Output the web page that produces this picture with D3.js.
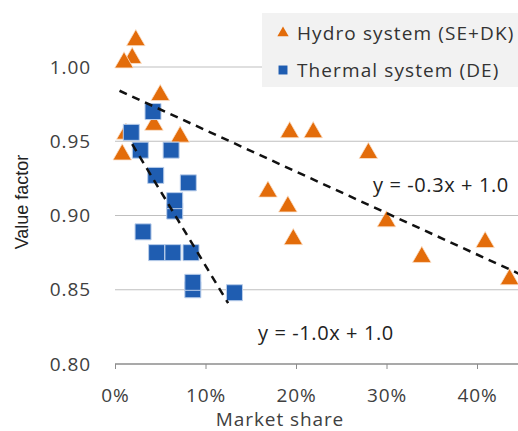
<!DOCTYPE html>
<html><head><meta charset="utf-8">
<script src="https://cdn.jsdelivr.net/npm/d3@7"></script>
<style>body{margin:0;background:#fff}svg{display:block}</style>
</head><body>
<svg id="c" width="518" height="431"></svg>
<script>
// Data (share as fraction, value factor)
const hydroShare = [0.023,0.019,0.010,0.050,0.043,0.072,0.008,0.012,0.193,0.219,0.280,0.169,0.191,0.197,0.300,0.339,0.409,0.436];
const hydroValue = [1.018,1.006,1.003,0.981,0.961,0.953,0.941,0.955,0.956,0.956,0.942,0.916,0.906,0.884,0.896,0.872,0.882,0.857];
const thermalShare = [0.066,0.086,0.018,0.028,0.062,0.045,0.081,0.066,0.042,0.031,0.046,0.064,0.084,0.086,0.132];
const thermalValue = [0.903,0.850,0.956,0.944,0.944,0.927,0.922,0.910,0.970,0.889,0.875,0.875,0.875,0.855,0.848];
const hydroTrend = {x:[0.005,0.46], y:[0.984,0.857]};
const thermalTrend = {x:[0.019,0.125], y:[0.948,0.841]};
const xTicks = [0,0.1,0.2,0.3,0.4];
const yTicks = [0.80,0.85,0.90,0.95,1.00];
const seriesNames = ["Hydro system (SE+DK)","Thermal system (DE)"];
const eqLabels = ["y = -0.3x + 1.0","y = -1.0x + 1.0"];

const orange="#e36c0a", blue="#1f5db1";
const svg=d3.select("#c");
const x=d3.scaleLinear().domain([0,0.5]).range([115,567.5]);
const y=d3.scaleLinear().domain([0.8,1.0]).range([364,67]);
const font="'Open Sans', sans-serif";
const fs=19, ls="0.9px";

// gridlines
svg.append("g").selectAll("line").data(yTicks.filter(d=>d>0.8)).join("line")
  .attr("x1",x(0)).attr("x2",518).attr("y1",d=>y(d)).attr("y2",d=>y(d))
  .attr("stroke","#bfbfbf").attr("stroke-width",1.2);

// x axis
const xa=svg.append("g").attr("transform",`translate(0,${y(0.8)})`)
  .call(d3.axisBottom(x).tickValues(xTicks).tickFormat(d3.format(".0%")).tickSizeInner(5).tickSizeOuter(0).tickPadding(20));
xa.select(".domain").attr("stroke","#8c8c8c").attr("stroke-width",1.5).attr("d",`M${x(0)},0H518`);
xa.selectAll(".tick line").attr("stroke","#8c8c8c");
xa.selectAll("text").attr("font-family",font).attr("font-size",fs).attr("letter-spacing",ls).attr("fill","#404040");

// y axis
const ya=svg.append("g").attr("transform",`translate(${x(0)},0)`)
  .call(d3.axisLeft(y).tickValues(yTicks).tickFormat(d3.format(".2f")).tickSize(0).tickPadding(24));
ya.select(".domain").remove();
ya.selectAll("text").attr("font-family",font).attr("font-size",fs).attr("letter-spacing",ls).attr("fill","#404040");

// axis titles
svg.append("text").attr("x",280).attr("y",426).attr("text-anchor","middle")
  .attr("font-family",font).attr("font-size",fs).attr("letter-spacing",ls).attr("fill","#404040").text("Market share");
svg.append("text").attr("transform","translate(28,202) rotate(-90)").attr("text-anchor","middle")
  .attr("font-family","'Liberation Sans', Arial, sans-serif").attr("font-size",18).attr("fill","#222").text("Value factor");

// points
const tri=d3.symbol().type(d3.symbolTriangle).size(150);
const sq=d3.symbol().type(d3.symbolSquare).size(256);
svg.append("g").selectAll("path").data(hydroShare.map((s,i)=>[s,hydroValue[i]])).join("path")
  .attr("d",tri).attr("transform",d=>`translate(${x(d[0])},${y(d[1])})`).attr("fill",orange)
  .attr("stroke","#fbe2cc").attr("stroke-width",0.8);
svg.append("g").selectAll("path").data(thermalShare.map((s,i)=>[s,thermalValue[i]])).join("path")
  .attr("d",sq).attr("transform",d=>`translate(${x(d[0])},${y(d[1])})`).attr("fill",blue)
  .attr("stroke","#b9cdea").attr("stroke-width",1);

// trend lines
[hydroTrend,thermalTrend].forEach(t=>{
  svg.append("line").attr("x1",x(t.x[0])).attr("y1",y(t.y[0])).attr("x2",x(t.x[1])).attr("y2",y(t.y[1]))
    .attr("stroke","#111").attr("stroke-width",2.5).attr("stroke-dasharray","8,6");
});

// equation labels
svg.append("text").attr("x",373).attr("y",192).attr("font-family",font).attr("font-size",20).attr("letter-spacing","0.6px").attr("fill","#222").text(eqLabels[0]);
svg.append("text").attr("x",258).attr("y",340).attr("font-family",font).attr("font-size",20).attr("letter-spacing","0.6px").attr("fill","#222").text(eqLabels[1]);

// legend
const lg=svg.append("g");
lg.append("rect").attr("x",262).attr("y",13).attr("width",270).attr("height",74).attr("fill","#f2f2f2");
lg.append("path").attr("d",d3.symbol().type(d3.symbolTriangle).size(55)).attr("transform","translate(283,33)").attr("fill",orange);
lg.append("path").attr("d",d3.symbol().type(d3.symbolSquare).size(80)).attr("transform","translate(283,70)").attr("fill",blue);
lg.append("text").attr("x",297).attr("y",40).attr("font-family",font).attr("font-size",19).attr("letter-spacing","1.1px").attr("fill","#333").text(seriesNames[0]);
lg.append("text").attr("x",297).attr("y",77).attr("font-family",font).attr("font-size",19).attr("letter-spacing","1.1px").attr("fill","#333").text(seriesNames[1]);
</script>
</body></html>
